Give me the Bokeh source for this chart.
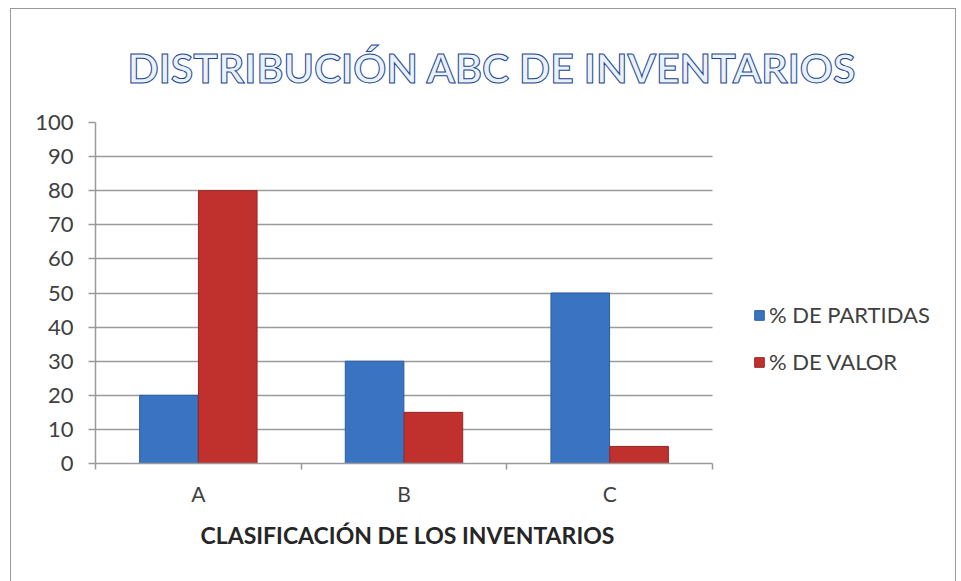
import numpy as np
from bokeh.plotting import figure
from bokeh.models import FixedTicker, Legend, LegendItem, Range1d, Title
from bokeh.embed import file_html
from bokeh.resources import INLINE

# ---- data ----
categories = ["A", "B", "C"]
partidas = [20, 30, 50]
valor = [80, 15, 5]
y_ticks = [0, 10, 20, 30, 40, 50, 60, 70, 80, 90, 100]
series_names = ["% DE PARTIDAS", "% DE VALOR"]
title_text = "DISTRIBUCIÓN ABC DE INVENTARIOS"
x_title = "CLASIFICACIÓN DE LOS INVENTARIOS"

n = len(categories)
centers = np.arange(n) + 0.5
# frame is widened to the right so the legend can sit inside it;
# the category axis only covers the first 617 px of the 852 px frame
x_end = n * 852 / 617

p = figure(width=946, height=575, output_backend="svg", toolbar_location=None,
           x_range=Range1d(0, x_end), y_range=Range1d(0, 100),
           min_border_left=84, min_border_right=10, min_border_top=113,
           min_border_bottom=121)
p.styles = {"border": "1px solid #9a9a9a", "margin-left": "10px", "margin-top": "8px"}
p.outline_line_color = None
p.background_fill_color = "white"
p.border_fill_color = "white"

# title
p.title.text = title_text
p.title.align = "left"
p.title.offset = 32
p.title.standoff = 62
p.title.text_font = "Lato"
p.title.text_font_style = "bold"
p.title.text_font_size = "41px"
p.title.text_color = "#e9f1fb"
p.title.text_outline_color = "#1a4690"

w = 0.285
off = 0.143
r1 = p.vbar(x=centers - off, top=partidas, width=w, bottom=0,
            fill_color="#3b73c3", line_color="#2d5d9f", line_width=1)
r2 = p.vbar(x=centers + off, top=valor, width=w, bottom=0,
            fill_color="#c0312d", line_color="#962622", line_width=1)

# grid
p.xgrid.grid_line_color = None
p.ygrid.ticker = FixedTicker(ticks=y_ticks)
p.ygrid.cross_bounds = (0, n)
p.ygrid.grid_line_color = "#9a9a9a"
p.ygrid.grid_line_width = 1.5

# y axis
p.yaxis.ticker = FixedTicker(ticks=y_ticks)
p.yaxis.axis_line_color = "#9a9a9a"
p.yaxis.axis_line_width = 1.5
p.yaxis.major_tick_line_color = "#9a9a9a"
p.yaxis.major_tick_line_width = 1.5
p.yaxis.major_tick_out = 7
p.yaxis.major_tick_in = 0
p.yaxis.minor_tick_line_color = None
p.yaxis.major_label_text_font = "Lato"
p.yaxis.major_label_text_font_size = "22px"
p.yaxis.major_label_text_color = "#404040"
p.yaxis.major_label_standoff = 15

# x axis
p.xaxis.bounds = (0, n)
p.xaxis.ticker = FixedTicker(ticks=list(centers), minor_ticks=list(range(n + 1)))
p.xaxis.major_label_overrides = {float(c): lab for c, lab in zip(centers, categories)}
p.xaxis.axis_line_color = "#9a9a9a"
p.xaxis.axis_line_width = 1.5
p.xaxis.major_tick_line_color = None
p.xaxis.major_tick_out = 0
p.xaxis.major_tick_in = 0
p.xaxis.minor_tick_line_color = "#9a9a9a"
p.xaxis.minor_tick_line_width = 1.5
p.xaxis.minor_tick_out = 6
p.xaxis.minor_tick_in = 0
p.xaxis.major_label_text_font = "Lato"
p.xaxis.major_label_text_font_size = "21px"
p.xaxis.major_label_text_color = "#404040"
p.xaxis.major_label_standoff = 11

# x-axis title, centred under the category part of the frame
xt = Title(text=x_title, align="left", offset=105, standoff=21,
           text_font="Lato", text_font_style="bold", text_font_size="23px",
           text_color="#262626")
p.add_layout(xt, "below")

legend = Legend(items=[LegendItem(label=series_names[0], renderers=[r1]),
                       LegendItem(label=series_names[1], renderers=[r2])],
                location=(658, 88), border_line_color=None,
                background_fill_alpha=0, label_text_font="Lato",
                label_text_font_size="22px", label_text_color="#404040",
                glyph_width=12, glyph_height=12, spacing=20, label_standoff=4)
p.add_layout(legend)

open("out.html", "w").write(file_html(p, INLINE))
